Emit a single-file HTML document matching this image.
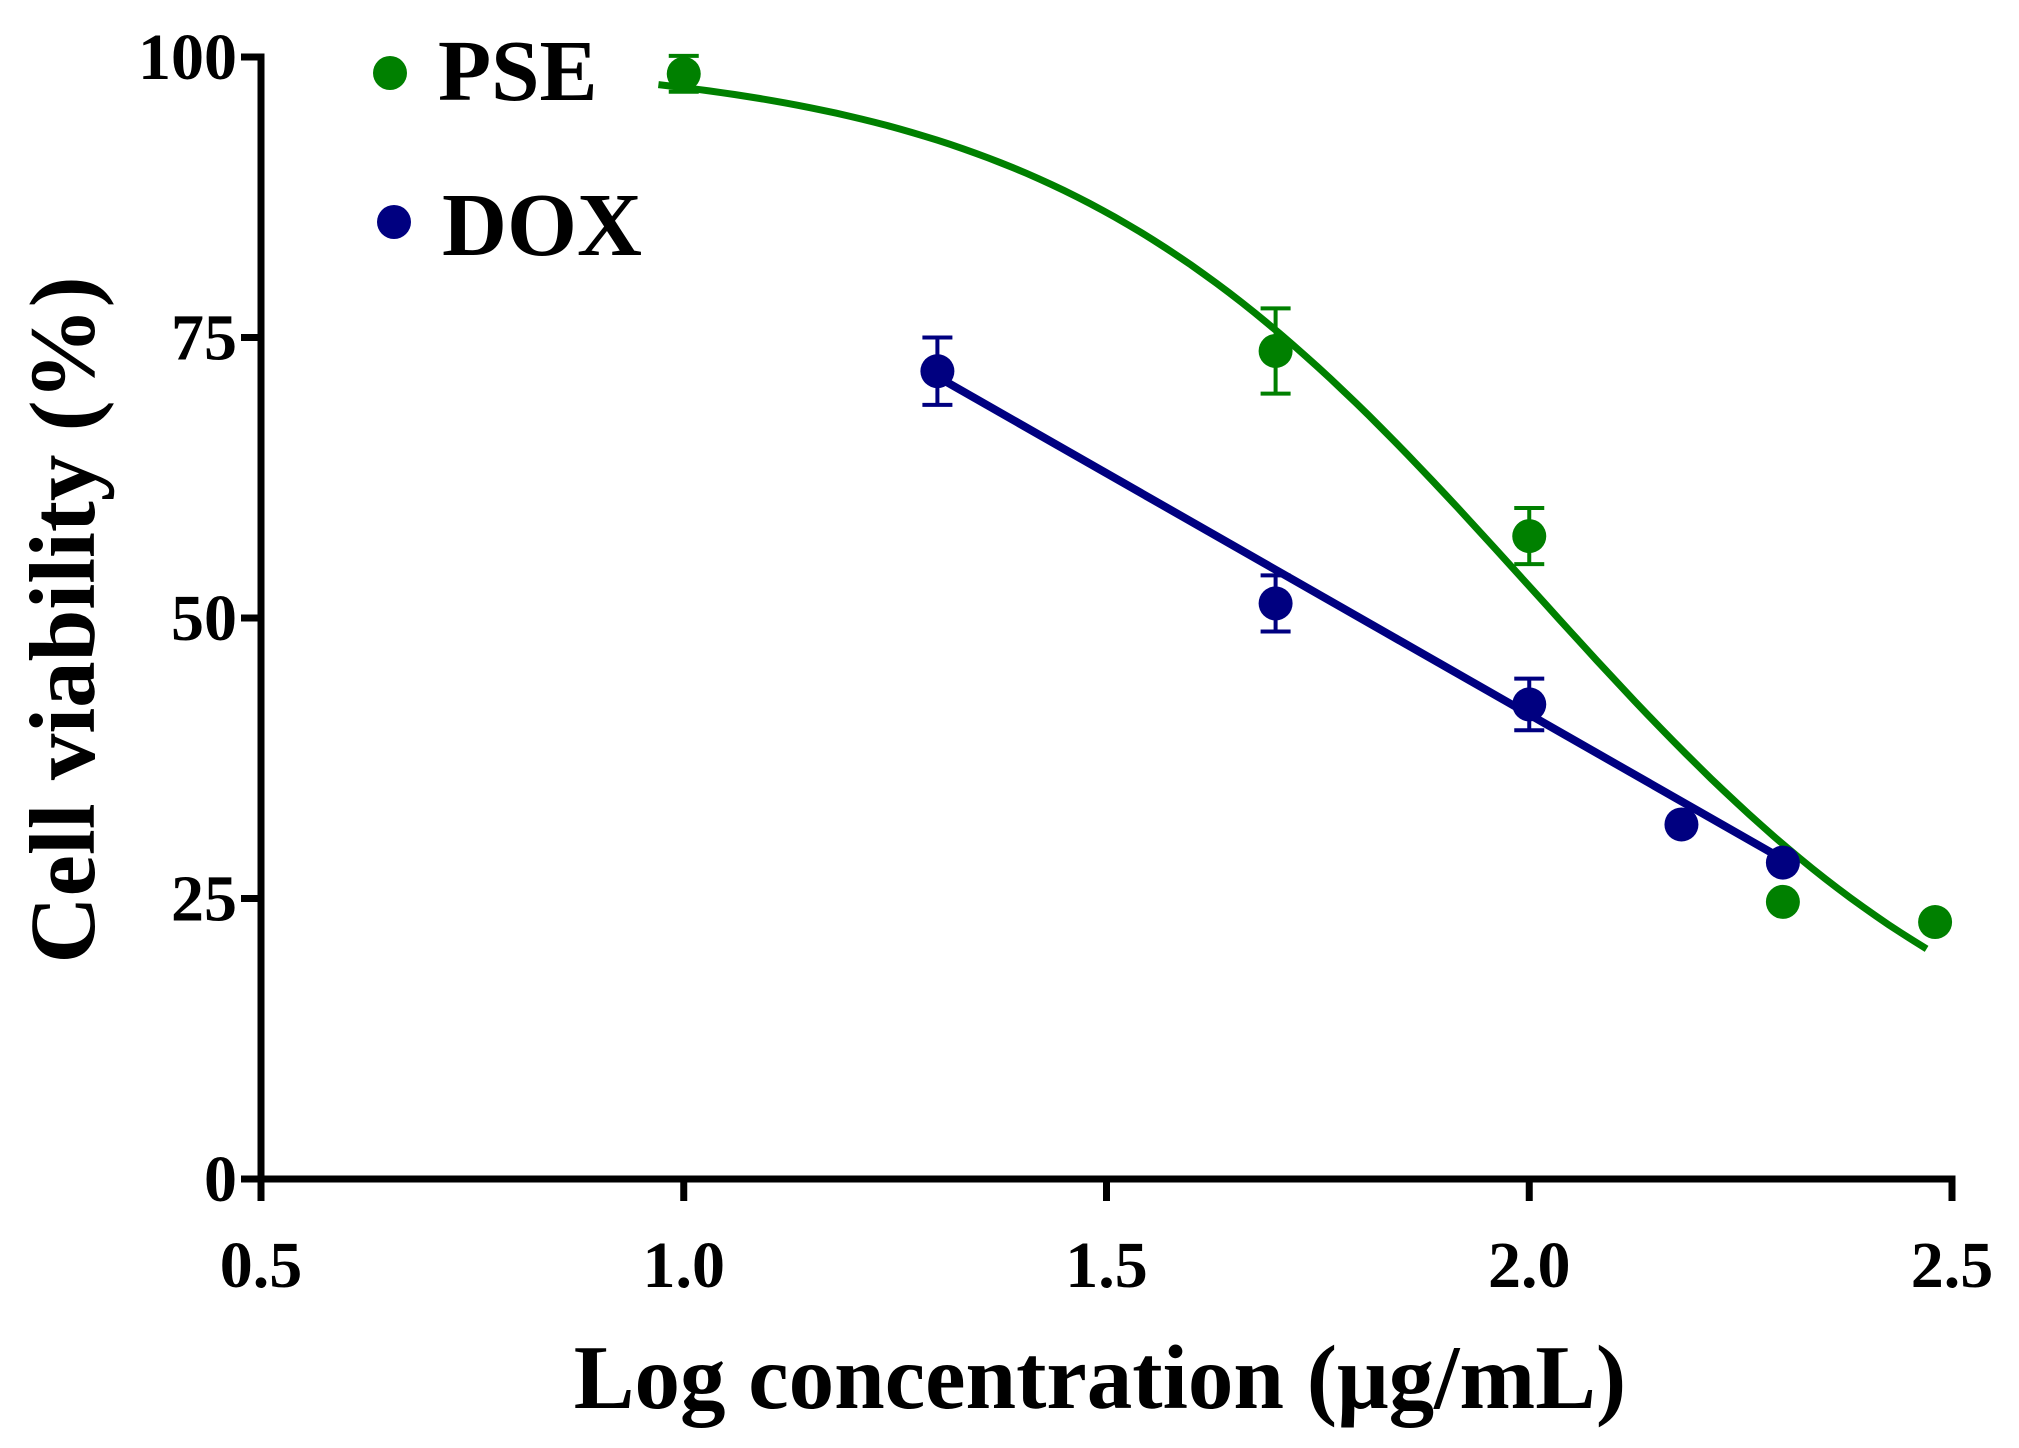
<!DOCTYPE html>
<html><head><meta charset="utf-8"><style>
html,body{margin:0;padding:0;background:#fff;}
svg{display:block;}
text{font-family:"Liberation Serif",serif;font-weight:bold;fill:#000;}
</style></head><body>
<svg id="chart" width="2019" height="1448" viewBox="0 0 2019 1448" xmlns="http://www.w3.org/2000/svg">
<g id="axes"></g>
<g id="series"></g>
<g>
  <circle cx="390" cy="73" r="17" fill="#008000"/>
  <text x="438" y="100" font-size="87">PSE</text>
  <circle cx="394" cy="222" r="17" fill="#000080"/>
  <text x="442" y="255" font-size="90">DOX</text>
</g>
<text x="1100" y="1408" font-size="91" text-anchor="middle">Log concentration (μg/mL)</text>
<text transform="translate(94,620) rotate(-90)" font-size="93" text-anchor="middle">Cell viability (%)</text>
</svg>
<script>
const xTicks = [0.5, 1.0, 1.5, 2.0, 2.5];
const xTickLabels = ["0.5", "1.0", "1.5", "2.0", "2.5"];
const yTicks = [0, 25, 50, 75, 100];
const yTickLabels = ["0", "25", "50", "75", "100"];
const pseX = [1.0, 1.7, 2.0, 2.3, 2.48];
const pseY = [98.5, 73.8, 57.3, 24.7, 22.9];
const pseErr = [1.6, 3.8, 2.5, 0, 0];
const doxX = [1.3, 1.7, 2.0, 2.18, 2.3];
const doxY = [72.0, 51.3, 42.3, 31.6, 28.2];
const doxErr = [3.0, 2.5, 2.3, 0, 0];
const pseFit = [100, 5, 2.004, 1.523]; // top, bottom, logIC50, hill
const pseFitRange = [0.97, 2.47];
const doxFit = [71.5, -43.0]; // value at 1.3, slope
const doxFitRange = [1.3, 2.3];

const X0 = 261, X1 = 1952, Y0 = 1179, Y1 = 57;
const xs = v => X0 + (v - 0.5) / 2.0 * (X1 - X0);
const ys = v => Y0 - v / 100 * (Y0 - Y1);
const NS = "http://www.w3.org/2000/svg";
function mk(tag, attrs, parent){const e=document.createElementNS(NS,tag);for(const k in attrs)e.setAttribute(k,attrs[k]);parent.appendChild(e);return e;}
const axes = document.getElementById('axes');
const series = document.getElementById('series');

let a = mk('path',{d:`M${X0-20},${Y1} H${X0} V${Y0} H${X1} V${Y0+22}`,fill:'none',stroke:'#000','stroke-width':7,'stroke-linejoin':'miter'},axes);


xTicks.forEach((t,i)=>{
  const l = mk('line',{x1:xs(t),x2:xs(t),y1:Y0,y2:Y0+22,stroke:'#000','stroke-width':7},axes);
  
  
  const tx = mk('text',{x:xs(t),y:Y0+108,'font-size':66,'text-anchor':'middle'},axes);
  tx.textContent = xTickLabels[i];
  
  
});
yTicks.forEach((t,i)=>{
  const l = mk('line',{x1:X0-20,x2:X0,y1:ys(t),y2:ys(t),stroke:'#000','stroke-width':7},axes);
  
  
  const tx = mk('text',{x:X0-24,y:ys(t)+22,'font-size':66,'text-anchor':'end'},axes);
  tx.textContent = yTickLabels[i];
  
  
});

function sig(x){return pseFit[1]+(pseFit[0]-pseFit[1])/(1+Math.pow(10,(x-pseFit[2])*pseFit[3]));}
let pts=[];
for(let i=0;i<=100;i++){const x=pseFitRange[0]+(pseFitRange[1]-pseFitRange[0])*i/100;pts.push(xs(x).toFixed(1)+','+ys(sig(x)).toFixed(1));}
let c = mk('polyline',{points:pts.join(' '),fill:'none',stroke:'#008000','stroke-width':7},series);


const dl = x => doxFit[0]+doxFit[1]*(x-1.3);
let d = mk('line',{x1:xs(doxFitRange[0]),y1:ys(dl(doxFitRange[0])),x2:xs(doxFitRange[1]),y2:ys(dl(doxFitRange[1])),stroke:'#000080','stroke-width':8},series);



function drawPts(X,Y,E,color,name){
  X.forEach((x,i)=>{
    if(E[i]>0){
      const cx=xs(x), yt=ys(Y[i]+E[i]), yb=ys(Y[i]-E[i]);
      const e = mk('path',{d:`M${cx},${yt} V${yb} M${cx-15},${yt} H${cx+15} M${cx-15},${yb} H${cx+15}`,stroke:color,'stroke-width':4,fill:'none'},series);
      
      
    }
    const p = mk('circle',{cx:xs(x),cy:ys(Y[i]),r:17,fill:color},series);
    
    
  });
}
drawPts(pseX,pseY,pseErr,'#008000','pse');
drawPts(doxX,doxY,doxErr,'#000080','dox');
</script>
</body></html>
